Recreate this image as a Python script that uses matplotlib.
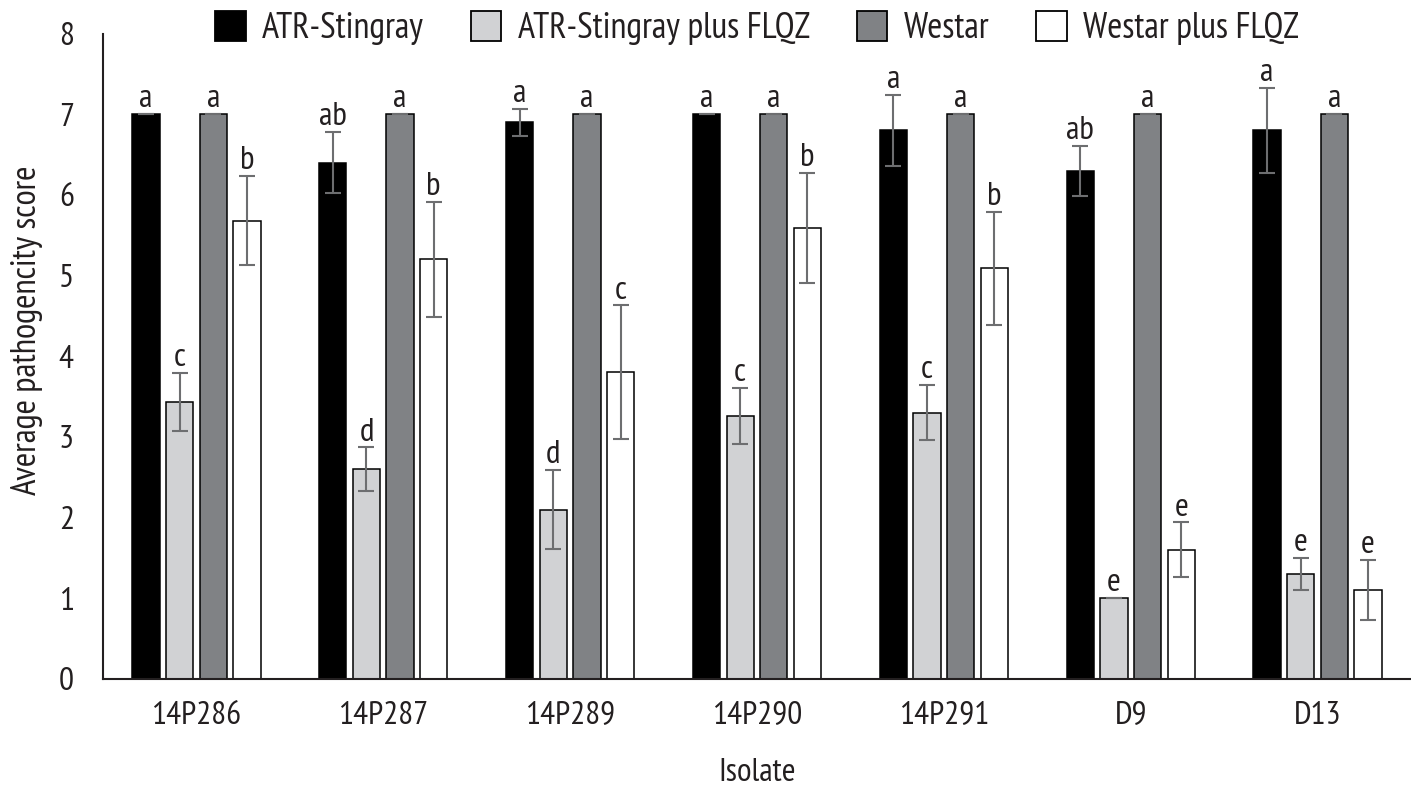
import matplotlib
matplotlib.use("Agg")
import matplotlib.pyplot as plt
from matplotlib.patches import Patch
import numpy as np

isolates = ["14P286", "14P287", "14P289", "14P290", "14P291", "D9", "D13"]
series = ["ATR-Stingray", "ATR-Stingray plus FLQZ", "Westar", "Westar plus FLQZ"]

atr = [7.0, 6.4, 6.9, 7.0, 6.8, 6.3, 6.8]
atr_err = [0.0, 0.38, 0.17, 0.0, 0.44, 0.31, 0.53]
atr_flqz = [3.43, 2.6, 2.1, 3.26, 3.3, 1.0, 1.3]
atr_flqz_err = [0.36, 0.27, 0.49, 0.35, 0.34, 0.0, 0.2]
westar = [7.0, 7.0, 7.0, 7.0, 7.0, 7.0, 7.0]
westar_err = [0.0, 0.0, 0.0, 0.0, 0.0, 0.0, 0.0]
westar_flqz = [5.68, 5.2, 3.8, 5.59, 5.09, 1.6, 1.1]
westar_flqz_err = [0.55, 0.71, 0.83, 0.68, 0.7, 0.34, 0.37]

letters_atr = ["a", "ab", "a", "a", "a", "ab", "a"]
letters_atr_flqz = ["c", "d", "d", "c", "c", "e", "e"]
letters_westar = ["a", "a", "a", "a", "a", "a", "a"]
letters_westar_flqz = ["b", "b", "c", "b", "b", "e", "e"]

colors = ["#000000", "#d1d2d4", "#808285", "#ffffff"]

FONT = ["PT Sans Narrow", "Roboto Condensed", "Open Sans", "DejaVu Sans"]
plt.rcParams["font.family"] = FONT

fig = plt.figure(figsize=(14.11, 7.86), dpi=100)
ax = fig.add_axes([103 / 1411, 1 - 679 / 786, 1 - 103 / 1411, (679 - 33.6) / 786])

x = np.arange(len(isolates))
width = 0.146
step = 0.18
vals = [atr, atr_flqz, westar, westar_flqz]
errs = [atr_err, atr_flqz_err, westar_err, westar_flqz_err]
lets = [letters_atr, letters_atr_flqz, letters_westar, letters_westar_flqz]

for i in range(4):
    pos = x + (i - 1.5) * step
    ax.bar(pos, vals[i], width, color=colors[i], edgecolor="black", linewidth=1.1, zorder=2)
    ax.errorbar(pos, vals[i], yerr=errs[i], fmt="none", ecolor="#6d6e70",
                elinewidth=1.5, capsize=5.5, capthick=1.5, zorder=3)
    for p, v, e, t in zip(pos, vals[i], errs[i], lets[i]):
        ax.annotate(t, (p, v + e), xytext=(0, 5), textcoords="offset points",
                    ha="center", va="baseline", fontsize=24, color="#231f20")

ax.set_xlim(-0.5, 6.5)
ax.set_ylim(0, 8)
ax.set_yticks(range(0, 9))
ax.set_xticks(x)
ax.set_xticklabels(isolates)
ax.tick_params(axis="both", length=0, labelsize=24, colors="#231f20")
ax.tick_params(axis="x", pad=16)
ax.tick_params(axis="y", pad=21)
for s in ["top", "right"]:
    ax.spines[s].set_visible(False)
for s in ["left", "bottom"]:
    ax.spines[s].set_color("#231f20")
    ax.spines[s].set_linewidth(1.5)

fig.text(757 / 1411, 1 - 781 / 786, "Isolate", ha="center", va="baseline",
         fontsize=24, color="#231f20")
fig.text(27 / 1411, 1 - 330 / 786, "Average pathogencity score", ha="center", va="center",
         rotation=90, fontsize=25, color="#231f20")

handles = [Patch(facecolor=c, edgecolor="black", linewidth=1.3) for c in colors]
fig.legend(handles, series, loc="center", bbox_to_anchor=(757 / 1411, 1 - 28 / 786),
           ncol=4, frameon=False, fontsize=26, handlelength=0.85, handleheight=0.9,
           handletextpad=0.45, columnspacing=1.3, borderpad=0, borderaxespad=0,
           labelcolor="#231f20")

fig.savefig("out.png", dpi=100)
